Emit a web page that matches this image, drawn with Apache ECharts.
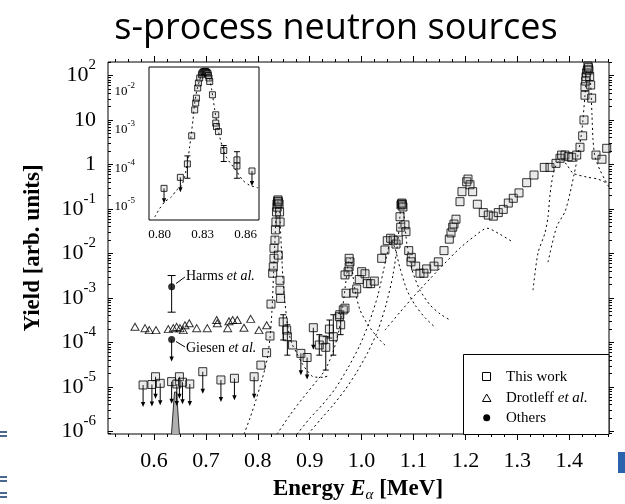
<!DOCTYPE html>
<html><head><meta charset="utf-8">
<script src="https://cdn.jsdelivr.net/npm/echarts@6/dist/echarts.min.js"></script>
<style>html,body{margin:0;padding:0;background:#fff}#c{width:625px;height:504px}</style>
</head><body><div id="c"></div>
<script>
// ---------------- DATA (Energy in MeV, yield in arb. units) ----------------
const xTickLabels = [0.6, 0.7, 0.8, 0.9, 1.0, 1.1, 1.2, 1.3, 1.4];
const yTickExponents = [-6, -5, -4, -3, -2, -1, 0, 1, 2];
const insetXTickLabels = [0.80, 0.83, 0.86];
const insetYTickExponents = [-5, -4, -3, -2];

const thisWorkPoints = [[0.806,3.1e-5],[0.817,5.9e-5],[0.8235,1.4e-4],[0.8254,7.3e-4],[0.8287,3.6e-3],[0.8299,5.0e-3],[0.8312,7.8e-3],[0.8312,1.31e-2],[0.8331,2.0e-2],[0.834,3.4e-2],[0.835,0.051],[0.836,0.086],[0.837,0.13],[0.8375,0.11],[0.838,0.15],[0.839,0.16],[0.840,0.145],[0.841,0.13],[0.842,0.086],[0.843,0.051],[0.8395,9.2e-3],[0.8428,2.5e-3],[0.8428,1.5e-3],[0.844,9.8e-4],[0.849,2.9e-4],[0.8557,1.9e-4],[0.857,1.35e-4],[0.867,8.8e-5],[0.9185,8.8e-5],[0.926,1.14e-4],[0.931,7.8e-5],[0.938,2.0e-4],[0.9455,1.35e-4],[0.957,3.8e-4],[0.958,4.2e-4],[0.9597,2.5e-4],[0.9647,5.4e-4],[0.968,5.9e-4],[0.968,3.3e-3],[0.970,1.28e-3],[0.974,3.9e-3],[0.976,5.0e-3],[0.9777,6.5e-3],[0.976,7.8e-3],[0.985,1.3e-3],[0.9906,1.6e-3],[0.9956,2.6e-3],[1.0002,3.9e-3],[1.0066,3.5e-3],[1.011,2.1e-3],[1.0175,2.1e-3],[1.0245,2.4e-3],[1.0387,7.8e-3],[1.045,1.2e-2],[1.0495,1.94e-2],[1.056,2.2e-2],[1.061,2.0e-2],[1.0663,1.63e-2],[1.0707,2.0e-2],[1.074,6.7e-2],[1.0753,3.9e-2],[1.0759,0.123],[1.0768,0.13],[1.0778,0.136],[1.0788,0.125],[1.0797,0.111],[1.0836,4.4e-2],[1.0855,3.1e-2],[1.0908,1.16e-2],[1.0958,8.2e-3],[1.0952,6.5e-3],[1.1042,5.2e-3],[1.1125,3.6e-3],[1.120,3.6e-3],[1.1254,4.5e-3],[1.1395,5.2e-3],[1.1478,6.5e-3],[1.1588,1.16e-2],[1.169,2.1e-2],[1.1723,2.9e-2],[1.1755,3.9e-2],[1.178,4.6e-2],[1.1819,5.9e-2],[1.1896,0.146],[1.1934,0.245],[1.2025,0.41],[1.205,0.47],[1.2089,0.35],[1.214,0.245],[1.223,0.128],[1.2345,8.3e-2],[1.2441,7.3e-2],[1.2538,6.9e-2],[1.2634,8.3e-2],[1.273,9.8e-2],[1.2827,0.136],[1.2923,0.174],[1.3033,0.23],[1.3181,0.39],[1.3322,0.58],[1.352,0.86],[1.363,0.86],[1.3746,1.06],[1.3823,1.38],[1.3855,1.63],[1.3919,1.63],[1.3983,1.5],[1.4048,1.45],[1.4145,1.63],[1.4208,2.44],[1.426,4.4],[1.4285,10],[1.4304,36],[1.4304,56],[1.4318,75],[1.4324,94],[1.4335,115],[1.4349,133],[1.436,163],[1.4372,150],[1.438,133],[1.4395,95],[1.4414,61],[1.4433,31],[1.4516,1.63],[1.4632,1.31],[1.4723,2.31]];
const thisWorkLimits = [[0.579,1.11e-5],[0.596,1.14e-5],[0.603,1.7e-5],[0.612,1.21e-5],[0.634,1.32e-5],[0.644,1.17e-5],[0.649,1.7e-5],[0.655,1.28e-5],[0.669,1.17e-5],[0.694,2.21e-5],[0.729,1.44e-5],[0.755,1.57e-5],[0.793,1.7e-5],[0.883,5.7e-5],[0.895,4.6e-5],[0.907,2.15e-4]];
const thisWorkErrors = [[0.849,1.14e-4,4.2e-4],[0.857,5.2e-5,2.5e-4],[0.9185,5.2e-5,1.5e-4],[0.931,2.4e-5,1.35e-4],[0.938,1.26e-4,3.2e-4],[0.9455,5.2e-5,4.2e-4],[0.9597,1.5e-4,4.5e-4]];

const drotleffPoints = [[0.5634,2.26e-4],[0.5827,2.1e-4],[0.5909,1.9e-4],[0.6039,1.9e-4],[0.6276,2.0e-4],[0.6372,2.1e-4],[0.6437,2.24e-4],[0.6501,2.1e-4],[0.6565,1.9e-4],[0.6597,2.45e-4],[0.668,2.7e-4],[0.6823,2.1e-4],[0.7027,2.1e-4],[0.7208,3.2e-4],[0.722,2.7e-4],[0.742,2.1e-4],[0.7445,3.0e-4],[0.7516,3.2e-4],[0.7605,3.2e-4],[0.7734,2.14e-4],[0.7863,3.4e-4],[0.8023,1.9e-4],[0.8171,2.45e-4]];

const othersPoints = [[0.634,1.8e-3],[0.634,1.17e-4]];
const othersErrors = [[0.634,4.8e-4,3.2e-3]];
const othersLimits = [[0.634,1.17e-4]];

const giesenBand = [[0.6337,8.8e-7],[0.6395,7.7e-6],[0.6434,7.7e-6],[0.6491,8.8e-7]];

const fit832 = [[0.7734,8.7e-7],[0.785,2.0e-6],[0.7965,5.1e-6],[0.808,1.44e-5],[0.8177,4.0e-5],[0.8235,1.26e-4],[0.8274,5.4e-4],[0.8303,3.3e-3],[0.8331,2.0e-2],[0.836,9.5e-2],[0.8389,0.16],[0.8418,9.5e-2],[0.8447,2.0e-2],[0.8486,2.5e-3],[0.8524,7.7e-4],[0.8588,1.9e-4],[0.8653,9.7e-5],[0.875,5.8e-5],[0.8846,3.5e-5],[0.8942,2.4e-5],[0.9069,1.7e-5],[0.9262,1.65e-5],[0.9391,1.86e-5]];
const fit976 = [[0.837,8.7e-7],[0.862,2.35e-6],[0.8871,5.7e-6],[0.9102,1.23e-5],[0.9295,2.4e-5],[0.9449,6.1e-5],[0.9565,1.9e-4],[0.9642,7.0e-4],[0.97,2.5e-3],[0.9748,6.4e-3],[0.9777,7.9e-3],[0.9815,4.7e-3],[0.9873,1.5e-3],[0.9969,5.4e-4],[1.0123,2.5e-4],[1.0316,1.26e-4],[1.047,8.3e-5]];
const fit1055 = [[0.8755,8.7e-7],[0.9006,2.0e-6],[0.9237,3.9e-6],[0.9487,9.0e-6],[0.9738,2.7e-5],[0.9969,8.8e-5],[1.0162,3.2e-4],[1.0316,1.17e-3],[1.0432,4.7e-3],[1.0509,1.2e-2],[1.0566,2.0e-2],[1.0643,1.33e-2],[1.074,4.7e-3],[1.0875,1.5e-3],[1.1029,7.0e-4],[1.1222,3.6e-4],[1.1434,2.1e-4]];
const fit1078 = [[0.8967,8.7e-7],[0.9198,1.8e-6],[0.9449,3.9e-6],[0.968,8.6e-6],[0.9911,2.2e-5],[1.0123,6.1e-5],[1.0316,1.9e-4],[1.047,7.0e-4],[1.0605,3.3e-3],[1.0701,2.0e-2],[1.0759,0.123],[1.0788,0.136],[1.0817,7.3e-2],[1.0875,1.55e-2],[1.0971,4.3e-3],[1.1125,1.5e-3],[1.1318,7.0e-4],[1.1511,4.4e-4],[1.1703,3.2e-4]];
const fit1240 = [[1.0451,1.9e-4],[1.074,4.8e-4],[1.1029,1.17e-3],[1.1318,2.7e-3],[1.1607,6.1e-3],[1.1896,1.33e-2],[1.2185,2.5e-2],[1.2416,3.7e-2],[1.2667,2.7e-2],[1.2917,1.8e-2]];
const fit1380 = [[1.3303,1.5e-3],[1.3399,1.03e-2],[1.3534,2.9e-2],[1.3592,6.6e-2],[1.363,0.21],[1.3688,0.58],[1.3765,1.08],[1.3861,1.26],[1.3958,0.97],[1.4073,0.64],[1.4343,0.52],[1.4555,0.47],[1.4767,0.36]];
const fit1434 = [[1.3592,6.4e-3],[1.3759,4.0e-2],[1.3919,8.7e-2],[1.4015,0.225],[1.4092,0.58],[1.4169,1.63],[1.4246,5.96],[1.4304,36],[1.4349,148],[1.4382,120],[1.4414,61],[1.4439,12.9],[1.4459,3.56],[1.4497,1.48],[1.4593,0.75],[1.469,0.45],[1.4767,0.31]];

const insetPoints = [[0.8193,1.3e-4],[0.8223,7.0e-4],[0.8244,3.3e-3],[0.8251,5.0e-3],[0.8256,6.7e-3],[0.8265,1.23e-2],[0.827,1.66e-2],[0.8279,2.24e-2],[0.8291,2.73e-2],[0.8296,3.0e-2],[0.8302,3.13e-2],[0.8308,3.3e-2],[0.8314,3.32e-2],[0.832,3.35e-2],[0.8326,3.2e-2],[0.8331,3.1e-2],[0.8337,2.9e-2],[0.834,2.6e-2],[0.8344,2.24e-2],[0.8349,1.82e-2],[0.8368,8.2e-3],[0.8391,2.47e-3],[0.8391,1.5e-3],[0.8396,1.22e-3],[0.841,9.0e-4],[0.8447,2.9e-4],[0.8539,1.65e-4],[0.8539,1.15e-4]];
const insetLimits = [[0.803,3.0e-5],[0.8144,5.8e-5],[0.8644,8.5e-5]];
const insetErrors = [[0.8193,5.5e-5,2.1e-4],[0.8447,1.5e-4,3.9e-4],[0.8539,5.5e-5,2.7e-4]];
const insetFit = [[0.7965,5.4e-6],[0.80,9.0e-6],[0.8035,1.34e-5],[0.8082,1.8e-5],[0.8117,2.7e-5],[0.8151,3.45e-5],[0.8174,6.0e-5],[0.8193,1.35e-4],[0.8209,3.7e-4],[0.8221,8.2e-4],[0.8232,1.8e-3],[0.8244,5.0e-3],[0.826,1.1e-2],[0.8279,2.0e-2],[0.830,3.1e-2],[0.8321,3.5e-2],[0.8342,2.7e-2],[0.8363,1.1e-2],[0.8384,3.3e-3],[0.8405,1.12e-3],[0.8433,4.1e-4],[0.8468,1.86e-4],[0.853,9.1e-5],[0.8579,4.9e-5],[0.8628,3.6e-5],[0.8685,3.1e-5]];

// ---------------- helpers ----------------
const SERIF = '"Liberation Serif","Times New Roman",serif';
const lg = v => Math.log10(v);
const toLog = arr => arr.map(p => [p[0], lg(p[1])]);
const toLogErr = arr => arr.map(p => [p[0], lg(p[1]), lg(p[2])]);

const MAIN = {xmin: 0.5114, xmax: 1.4767, ymin: -6.056, ymax: 2.303};
const INS = {xmin: 0.7925, xmax: 0.8693, ymin: -5.347, ymax: -1.363};

const mainMinorX = []; for (let i = 21; i <= 59; i++) mainMinorX.push(+(i * 0.025).toFixed(3));
const insetMinorX = []; for (let i = 79; i <= 86; i++) insetMinorX.push(+(i * 0.01).toFixed(2));
const logMinor = []; for (let n = -7; n <= 2; n++) for (let k = 2; k <= 9; k++) logMinor.push(n + Math.log10(k));

function expLabel(v) {
  v = Math.round(v);
  if (v === 0) return '{b|1}';
  if (v === 1) return '{b|10}';
  return '{b|10}{s|' + v + '}';
}

function xAx(grid, range, pos, ticks, len, inside, label) {
  return {
    type: 'value', gridIndex: grid, position: pos, min: range.xmin, max: range.xmax,
    axisLine: {show: false, onZero: false}, splitLine: {show: false},
    axisTick: {show: true, customValues: ticks, length: len, inside: inside, lineStyle: {color: '#000', width: 1}},
    axisLabel: label || {show: false}
  };
}
function yAx(grid, range, pos, ticks, len, inside, label) {
  return {
    type: 'value', gridIndex: grid, position: pos, min: range.ymin, max: range.ymax,
    axisLine: {show: false, onZero: false}, splitLine: {show: false},
    axisTick: {show: true, customValues: ticks, length: len, inside: inside, lineStyle: {color: '#000', width: 1}},
    axisLabel: label || {show: false}
  };
}

function arrowRender(len) {
  return function (params, api) {
    const p = api.coord([api.value(0), api.value(1)]);
    const x = p[0], y0 = p[1], y1 = y0 + len, h = 5;
    return {type: 'group', children: [
      {type: 'line', shape: {x1: x, y1: y0, x2: x, y2: y1 - h + 1}, style: {stroke: '#000', lineWidth: 1}},
      {type: 'polygon', shape: {points: [[x - 2.2, y1 - h], [x + 2.2, y1 - h], [x, y1]]}, style: {fill: '#000'}}
    ]};
  };
}
function errRender(cap) {
  return function (params, api) {
    const a = api.coord([api.value(0), api.value(1)]);
    const b = api.coord([api.value(0), api.value(2)]);
    const s = {stroke: '#000', lineWidth: 1};
    return {type: 'group', children: [
      {type: 'line', shape: {x1: a[0], y1: a[1], x2: b[0], y2: b[1]}, style: s},
      {type: 'line', shape: {x1: a[0] - cap, y1: a[1], x2: a[0] + cap, y2: a[1]}, style: s},
      {type: 'line', shape: {x1: b[0] - cap, y1: b[1], x2: b[0] + cap, y2: b[1]}, style: s}
    ]};
  };
}

const dotted = {color: '#000', width: 1, type: [2, 3]};
function fitSeries(data, xi, yi) {
  return {type: 'line', xAxisIndex: xi, yAxisIndex: yi, data: toLog(data), symbol: 'none', smooth: 0.25,
    lineStyle: dotted, z: 1, silent: true};
}
const sqStyle = {color: 'rgba(150,150,150,0.25)', borderColor: '#000', borderWidth: 1};

const chart = echarts.init(document.getElementById('c'));
const option = {
  animation: false,
  backgroundColor: '#fff',
  grid: [
    {left: 108, top: 62, width: 501, height: 372, show: true, borderColor: '#000', borderWidth: 1, backgroundColor: 'transparent'},
    {left: 149, top: 67, width: 110, height: 153, show: true, borderColor: '#000', borderWidth: 1, backgroundColor: '#fff', z: 5}
  ],
  xAxis: [
    xAx(0, MAIN, 'bottom', xTickLabels, 6, false, {
      show: true, customValues: xTickLabels, formatter: v => v.toFixed(1), margin: 16,
      fontSize: 22, fontFamily: SERIF, color: '#000'}),
    xAx(0, MAIN, 'bottom', mainMinorX, 3, false),
    xAx(0, MAIN, 'top', xTickLabels, 6, false),
    xAx(0, MAIN, 'top', mainMinorX, 3, false),
    xAx(1, INS, 'bottom', insetMinorX, 3, true, {
      show: true, customValues: insetXTickLabels, formatter: v => v.toFixed(2), margin: 8,
      fontSize: 13, fontFamily: SERIF, color: '#000'}),
    xAx(1, INS, 'top', insetMinorX, 3, true)
  ],
  yAxis: [
    yAx(0, MAIN, 'left', yTickExponents, 5, true, {
      show: true, customValues: yTickExponents, formatter: expLabel, margin: 12, color: '#000',
      rich: {
        b: {fontSize: 22, fontFamily: SERIF, color: '#000', lineHeight: 24, verticalAlign: 'middle'},
        s: {fontSize: 15, fontFamily: SERIF, color: '#000', lineHeight: 16, padding: [0, 0, 20, 0], verticalAlign: 'middle'}
      }}),
    yAx(0, MAIN, 'left', logMinor, 3, true),
    yAx(0, MAIN, 'right', yTickExponents, 5, false),
    yAx(0, MAIN, 'right', logMinor, 3, false),
    yAx(1, INS, 'left', insetYTickExponents, 4, true, {
      show: true, customValues: insetYTickExponents, formatter: expLabel, margin: 14, color: '#000',
      rich: {
        b: {fontSize: 13, fontFamily: SERIF, color: '#000', lineHeight: 14, verticalAlign: 'middle'},
        s: {fontSize: 9, fontFamily: SERIF, color: '#000', lineHeight: 10, padding: [0, 0, 12, 0], verticalAlign: 'middle'}
      }}),
    yAx(1, INS, 'left', logMinor, 2, true),
    yAx(1, INS, 'right', insetYTickExponents, 4, true),
    yAx(1, INS, 'right', logMinor, 2, true)
  ],
  series: [
    fitSeries(fit832, 0, 0), fitSeries(fit976, 0, 0), fitSeries(fit1055, 0, 0), fitSeries(fit1078, 0, 0),
    fitSeries(fit1240, 0, 0), fitSeries(fit1380, 0, 0), fitSeries(fit1434, 0, 0),
    {type: 'line', xAxisIndex: 0, yAxisIndex: 0, data: toLog(giesenBand), symbol: 'none',
      lineStyle: {color: '#000', width: 0.8}, areaStyle: {color: '#b0b0b0', opacity: 1, origin: 'start'}, z: 1},
    {type: 'custom', name: 'errMain', xAxisIndex: 0, yAxisIndex: 0, data: toLogErr(thisWorkErrors), renderItem: errRender(3), z: 2, clip: true},
    {type: 'custom', name: 'errOthers', xAxisIndex: 0, yAxisIndex: 0, data: toLogErr(othersErrors), renderItem: errRender(4), z: 2, clip: true},
    {type: 'custom', name: 'limMain', xAxisIndex: 0, yAxisIndex: 0, data: toLog(thisWorkLimits), renderItem: arrowRender(22), z: 2, clip: true},
    {type: 'custom', name: 'limOthers', xAxisIndex: 0, yAxisIndex: 0, data: toLog(othersLimits), renderItem: arrowRender(22), z: 2, clip: true},
    {type: 'scatter', name: 'Drotleff et al.', xAxisIndex: 0, yAxisIndex: 0, data: toLog(drotleffPoints),
      symbol: 'triangle', symbolSize: [8, 7], itemStyle: {color: 'rgba(255,255,255,0)', borderColor: '#000', borderWidth: 1}, z: 3},
    {type: 'scatter', name: 'This work', xAxisIndex: 0, yAxisIndex: 0, data: toLog(thisWorkPoints),
      symbol: 'rect', symbolSize: 8, itemStyle: sqStyle, z: 3},
    {type: 'scatter', name: 'This work', xAxisIndex: 0, yAxisIndex: 0, data: toLog(thisWorkLimits),
      symbol: 'rect', symbolSize: 8, itemStyle: sqStyle, z: 3},
    {type: 'scatter', name: 'Others', xAxisIndex: 0, yAxisIndex: 0, data: toLog(othersPoints),
      symbol: 'circle', symbolSize: 7, itemStyle: {color: '#000'}, z: 3},
    // inset
    {type: 'line', xAxisIndex: 4, yAxisIndex: 4, data: toLog(insetFit), symbol: 'none', smooth: 0.25, lineStyle: dotted, z: 6},
    {type: 'custom', xAxisIndex: 4, yAxisIndex: 4, data: toLogErr(insetErrors), renderItem: errRender(3), z: 6, clip: true},
    {type: 'custom', xAxisIndex: 4, yAxisIndex: 4, data: toLog(insetLimits), renderItem: arrowRender(15), z: 6, clip: true},
    {type: 'scatter', name: 'This work', xAxisIndex: 4, yAxisIndex: 4, data: toLog(insetPoints),
      symbol: 'rect', symbolSize: 6, itemStyle: sqStyle, z: 7},
    {type: 'scatter', name: 'This work', xAxisIndex: 4, yAxisIndex: 4, data: toLog(insetLimits),
      symbol: 'rect', symbolSize: 6, itemStyle: sqStyle, z: 7}
  ],
  graphic: [
    {type: 'text', x: 336, y: 29, style: {text: 's-process neutron sources', font: '36px "Open Sans", sans-serif', fill: '#000', align: 'center', verticalAlign: 'middle'}},
    {type: 'text', x: 33, y: 248, rotation: Math.PI / 2, style: {text: 'Yield [arb. units]', font: 'bold 23px ' + SERIF, fill: '#000', align: 'center', verticalAlign: 'middle'}},
    {type: 'text', x: 358, y: 489, style: {text: '{b|Energy }{i|E}{sub|α}{b| [MeV]}', align: 'center', verticalAlign: 'middle',
      rich: {b: {font: 'bold 23px ' + SERIF, fill: '#000'}, i: {font: 'italic bold 23px ' + SERIF, fill: '#000'},
        sub: {font: 'italic 15px ' + SERIF, fill: '#000', padding: [13, 0, 0, 0]}}}},
    // annotations
    {type: 'line', shape: {x1: 176, y1: 283.5, x2: 185, y2: 277}, style: {stroke: '#000', lineWidth: 1}, z: 10},
    {type: 'text', x: 186, y: 276, style: {text: '{n|Harms }{i|et al.}', verticalAlign: 'middle',
      rich: {n: {font: '14px ' + SERIF, fill: '#000'}, i: {font: 'italic 14px ' + SERIF, fill: '#000'}}}, z: 10},
    {type: 'line', shape: {x1: 176, y1: 341.5, x2: 185, y2: 347}, style: {stroke: '#000', lineWidth: 1}, z: 10},
    {type: 'text', x: 186, y: 348, style: {text: '{n|Giesen }{i|et al.}', verticalAlign: 'middle',
      rich: {n: {font: '14px ' + SERIF, fill: '#000'}, i: {font: 'italic 14px ' + SERIF, fill: '#000'}}}, z: 10},
    // legend box
    {type: 'rect', shape: {x: 463.5, y: 354.5, width: 145.5, height: 80}, style: {fill: '#fff', stroke: '#000', lineWidth: 1}, z: 20},
    {type: 'rect', shape: {x: 482.5, y: 372.5, width: 8, height: 8}, style: {fill: 'none', stroke: '#000', lineWidth: 1}, z: 21},
    {type: 'polygon', shape: {points: [[482.5, 401.5], [491, 401.5], [486.7, 394]]}, style: {fill: 'none', stroke: '#000', lineWidth: 1}, z: 21},
    {type: 'circle', shape: {cx: 486.7, cy: 417.7, r: 3.5}, style: {fill: '#000'}, z: 21},
    {type: 'text', x: 506, y: 377, style: {text: 'This work', font: '15px ' + SERIF, fill: '#000', verticalAlign: 'middle'}, z: 21},
    {type: 'text', x: 506, y: 398, style: {text: '{n|Drotleff }{i|et al.}', verticalAlign: 'middle',
      rich: {n: {font: '15px ' + SERIF, fill: '#000'}, i: {font: 'italic 15px ' + SERIF, fill: '#000'}}}, z: 21},
    {type: 'text', x: 506, y: 418, style: {text: 'Others', font: '15px ' + SERIF, fill: '#000', verticalAlign: 'middle'}, z: 21},
    // slide decorations
    {type: 'rect', shape: {x: 0, y: 431, width: 7, height: 2}, style: {fill: '#4a6890'}},
    {type: 'rect', shape: {x: 0, y: 435, width: 7, height: 2}, style: {fill: '#4a6890'}},
    {type: 'rect', shape: {x: 0, y: 476, width: 7, height: 2}, style: {fill: '#4a6890'}},
    {type: 'rect', shape: {x: 0, y: 480, width: 7, height: 2}, style: {fill: '#4a6890'}},
    {type: 'rect', shape: {x: 0, y: 492, width: 7, height: 2}, style: {fill: '#4a6890'}},
    {type: 'rect', shape: {x: 0, y: 496, width: 7, height: 2}, style: {fill: '#4a6890'}},
    {type: 'rect', shape: {x: 618, y: 452, width: 7, height: 21}, style: {fill: '#2a63ad'}}
  ]
};
chart.setOption(option);
</script>
</body></html>
